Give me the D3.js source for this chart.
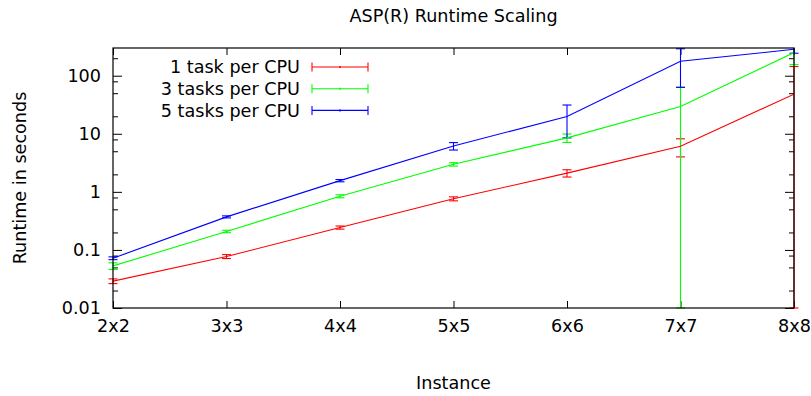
<!DOCTYPE html>
<html><head><meta charset="utf-8">
<script src="https://cdn.jsdelivr.net/npm/d3@7"></script>
<style>
body{margin:0;background:#fff}
text{font-family:"DejaVu Sans",sans-serif;fill:#000}
</style></head>
<body><svg id="c" width="811" height="396"></svg>
<script>
const categories = ["2x2","3x3","4x4","5x5","6x6","7x7","8x8"];
const seriesNames = ["1 task per CPU","3 tasks per CPU","5 tasks per CPU"];
const oneTask   = [0.029, 0.077, 0.243, 0.76, 2.1, 6.1, 48];
const oneErr    = [0.0027, 0.006, 0.015, 0.06, 0.3, 2.1, 96];
const threeTasks= [0.053, 0.208, 0.84, 2.98, 8.5, 29.6, 250];
const threeErr  = [0.007, 0.01, 0.05, 0.2, 1.4, 34, 95];
const fiveTasks = [0.072, 0.371, 1.56, 6.15, 19.9, 177, 285];
const fiveErr   = [0.004, 0.015, 0.07, 0.9, 11.4, 114, 41];
const yTicks = [0.01, 0.1, 1, 10, 100];
const yTickLabels = ["0.01","0.1","1","10","100"];
const yMinorMult = [2,5,8];
const colors = ["#ff0000","#00ff00","#0000ff"];

const FS = 17.6;
const W=811,H=396,m={l:113,r:17,t:48,b:88};
const w=W-m.l-m.r,h=H-m.t-m.b;
const svg=d3.select("#c");
const g=svg.append("g").attr("transform",`translate(${m.l},${m.t})`);
const x=d3.scalePoint().domain(categories).range([0,w]);
const y=d3.scaleLog().domain([0.01,300]).range([h,0]);

// title & labels
svg.append("text").attr("x",m.l+w/2).attr("y",22).attr("text-anchor","middle").style("font-size",FS+"px").text("ASP(R) Runtime Scaling");
svg.append("text").attr("x",m.l+w/2).attr("y",389).attr("text-anchor","middle").style("font-size",FS+"px").text("Instance");
svg.append("text").attr("transform",`translate(26,${m.t+h/2}) rotate(-90)`).attr("text-anchor","middle").style("font-size",FS+"px").text("Runtime in seconds");

// minor ticks
const minors=[];
yTicks.forEach(t=>yMinorMult.forEach(k=>{const v=t*k; if(v<=300) minors.push(v);}));
const yl=d3.axisLeft(y).tickValues(yTicks).tickFormat((d,i)=>yTickLabels[i]).tickSizeInner(-9).tickSizeOuter(0).tickPadding(12);
const ya=g.append("g").call(yl);
ya.select(".domain").remove();
ya.selectAll("text").style("font-size",FS+"px").style("font-family","DejaVu Sans");
const ylm=d3.axisLeft(y).tickValues(minors).tickFormat("").tickSizeInner(-5).tickSizeOuter(0);
g.append("g").call(ylm).select(".domain").remove();
const yr=d3.axisRight(y).tickValues(yTicks).tickFormat("").tickSizeInner(-9).tickSizeOuter(0);
g.append("g").attr("transform",`translate(${w},0)`).call(yr).select(".domain").remove();
const yrm=d3.axisRight(y).tickValues(minors).tickFormat("").tickSizeInner(-5).tickSizeOuter(0);
g.append("g").attr("transform",`translate(${w},0)`).call(yrm).select(".domain").remove();

const xb=d3.axisBottom(x).tickSizeInner(-7).tickSizeOuter(0).tickPadding(12);
const xa=g.append("g").attr("transform",`translate(0,${h})`).call(xb);
xa.select(".domain").remove();
xa.selectAll("text").style("font-size",FS+"px").style("font-family","DejaVu Sans");
const xt=d3.axisTop(x).tickFormat("").tickSizeInner(-7).tickSizeOuter(0);
g.append("g").call(xt).select(".domain").remove();

// clip
svg.append("defs").append("clipPath").attr("id","clip").append("rect").attr("x",-6).attr("y",0).attr("width",w+12).attr("height",h+2);
const plot=g.append("g").attr("clip-path","url(#clip)");
svg.select("defs").append("clipPath").attr("id","clip2").append("rect").attr("x",0).attr("y",0).attr("width",w).attr("height",h);

const data=[[oneTask,oneErr],[threeTasks,threeErr],[fiveTasks,fiveErr]];
const line=d3.line().x((d,i)=>x(categories[i])).y(d=>y(d));
data.forEach(([vals,errs],si)=>{
  const c=colors[si];
  g.append("path").attr("clip-path","url(#clip2)").datum(vals).attr("d",line).attr("fill","none").attr("stroke",c).attr("stroke-width",1.1);
  vals.forEach((v,i)=>{
    const cx=x(categories[i]);
    const lo=v-errs[i], hi=v+errs[i];
    const ylo= lo>0? y(lo): h;
    const yhi= y(hi);
    plot.append("line").attr("x1",cx).attr("x2",cx).attr("y1",ylo).attr("y2",yhi).attr("stroke",c).attr("stroke-width",1.1);
    [ylo,yhi].forEach(yy=>plot.append("line").attr("x1",cx-4.5).attr("x2",cx+4.5).attr("y1",yy).attr("y2",yy).attr("stroke",c).attr("stroke-width",1.1));
  });
});

// border
g.append("rect").attr("width",w).attr("height",h).attr("fill","none").attr("stroke","#000").attr("stroke-width",1.2);

// legend
const lg=svg.append("g");
seriesNames.forEach((n,i)=>{
  const yy=67+i*21.7;
  lg.append("text").attr("x",300).attr("y",yy).attr("dy","0.35em").attr("text-anchor","end").style("font-size",FS+"px").text(n);
  const c=colors[i];
  lg.append("line").attr("x1",312).attr("x2",368).attr("y1",yy).attr("y2",yy).attr("stroke",c).attr("stroke-width",1.1);
  [312,368].forEach(xx=>lg.append("line").attr("x1",xx).attr("x2",xx).attr("y1",yy-4.5).attr("y2",yy+4.5).attr("stroke",c).attr("stroke-width",1.1));
  lg.append("line").attr("x1",340).attr("x2",340).attr("y1",yy-1).attr("y2",yy+1).attr("stroke",c).attr("stroke-width",1.5);
});
</script></body></html>
